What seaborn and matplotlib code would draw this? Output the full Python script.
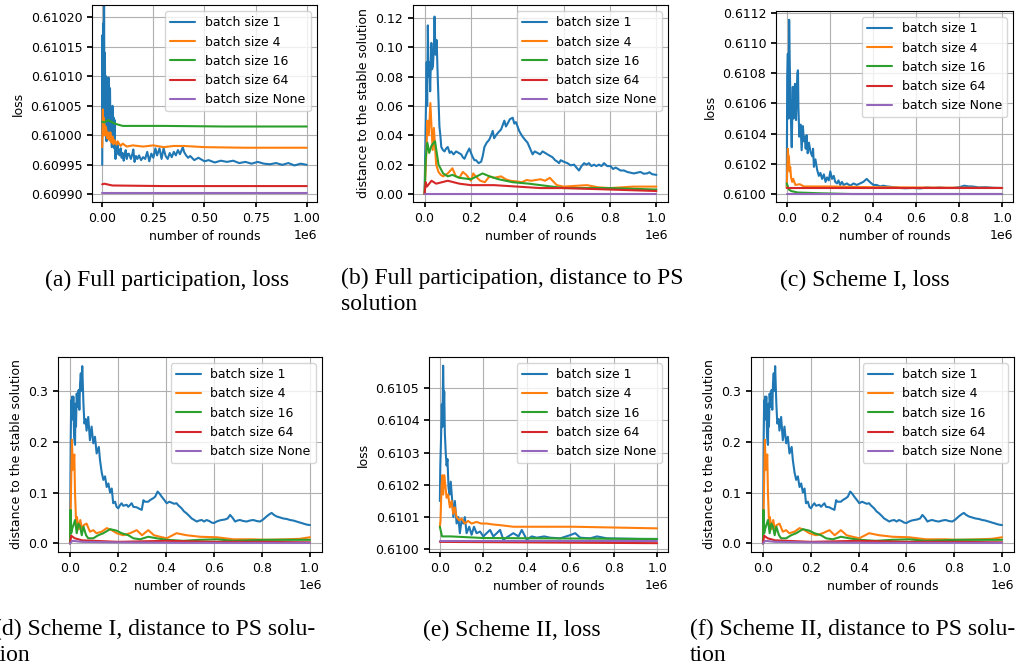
import numpy as np
import pandas as pd
import seaborn as sns
import matplotlib
matplotlib.use("Agg")
import matplotlib.pyplot as plt

labels = ["batch size 1", "batch size 4", "batch size 16", "batch size 64", "batch size None"]
colors = ["#1f77b4", "#ff7f0e", "#2ca02c", "#d62728", "#9467bd"]

# (a) full participation, loss
a_b1 = [(0.0, 0.60995), (0.001, 0.61017), (0.003, 0.61000), (0.005, 0.61019), (0.007, 0.61003),
        (0.009, 0.610223), (0.011, 0.61005), (0.013, 0.61014), (0.016, 0.61000), (0.019, 0.61010),
        (0.021, 0.60999), (0.024, 0.61006), (0.027, 0.61003), (0.031, 0.610098), (0.034, 0.61000),
        (0.036, 0.61006), (0.038, 0.61008), (0.041, 0.60999), (0.044, 0.61003), (0.047, 0.60998),
        (0.050, 0.61005), (0.053, 0.609985), (0.056, 0.61003), (0.059, 0.609978), (0.061, 0.610026),
        (0.063, 0.609975), (0.065, 0.60996), (0.068, 0.60998), (0.071, 0.609968), (0.075, 0.609984),
        (0.08, 0.60997), (0.085, 0.609966), (0.09, 0.609978), (0.095, 0.609962), (0.1, 0.60997),
        (0.105, 0.609957), (0.11, 0.609968), (0.115, 0.609975), (0.12, 0.60996), (0.125, 0.609968),
        (0.13, 0.609969), (0.14, 0.60996), (0.147, 0.609968), (0.152, 0.609976), (0.158, 0.609955),
        (0.165, 0.609965), (0.172, 0.60996), (0.18, 0.609966), (0.19, 0.609958), (0.2, 0.609963),
        (0.21, 0.60996), (0.22, 0.609972), (0.23, 0.609956), (0.24, 0.609969), (0.25, 0.609962),
        (0.26, 0.609978), (0.268, 0.609966), (0.28, 0.609978), (0.29, 0.60996), (0.30, 0.609978),
        (0.31, 0.609965), (0.32, 0.60996), (0.33, 0.60997), (0.34, 0.609963), (0.35, 0.609972),
        (0.36, 0.609966), (0.37, 0.609975), (0.38, 0.609968), (0.394, 0.60998), (0.40, 0.609972),
        (0.41, 0.609966), (0.42, 0.609962), (0.43, 0.609965), (0.45, 0.609958), (0.47, 0.609962),
        (0.50, 0.609956), (0.52, 0.609958), (0.55, 0.609954), (0.58, 0.609957), (0.61, 0.609955),
        (0.64, 0.609957), (0.67, 0.609953), (0.70, 0.609955), (0.73, 0.609952), (0.76, 0.609955),
        (0.79, 0.609952), (0.82, 0.609951), (0.85, 0.609953), (0.88, 0.60995), (0.91, 0.609953),
        (0.94, 0.609949), (0.97, 0.609952), (1.0, 0.60995)]
a_b4 = [(0.0, 0.60998), (0.003, 0.610044), (0.005, 0.61000), (0.007, 0.61003), (0.01, 0.610025),
        (0.013, 0.61000), (0.016, 0.610015), (0.02, 0.61001), (0.025, 0.609995), (0.03, 0.610005),
        (0.035, 0.609992), (0.04, 0.610005), (0.045, 0.609988), (0.05, 0.609998), (0.055, 0.609985),
        (0.06, 0.609992), (0.07, 0.609984), (0.075, 0.60999), (0.09, 0.609982), (0.1, 0.609986),
        (0.12, 0.609981), (0.15, 0.609983), (0.2, 0.609981), (0.25, 0.609983), (0.3, 0.60998),
        (0.35, 0.609982), (0.4, 0.609982), (0.5, 0.60998), (0.7, 0.609979), (1.0, 0.609979)]
a_b16 = [(0.0, 0.610023), (0.01, 0.610022), (0.03, 0.610026), (0.06, 0.61002), (0.1, 0.610016),
         (0.3, 0.610016), (0.6, 0.610015), (1.0, 0.610015)]
a_b64 = [(0.0, 0.609917), (0.01, 0.609918), (0.05, 0.609915), (0.3, 0.609914), (1.0, 0.609914)]
a_bn = [(0.0, 0.609902), (1.0, 0.609902)]

# (b) full participation, distance to PS solution
b_b1 = [(0.0, 0.0), (0.004, 0.041), (0.007, 0.07), (0.009, 0.09), (0.011, 0.06), (0.014, 0.115),
        (0.017, 0.08), (0.021, 0.09), (0.024, 0.07), (0.029, 0.103), (0.032, 0.085),
        (0.036, 0.087), (0.04, 0.1), (0.043, 0.121), (0.047, 0.095), (0.052, 0.105), (0.057, 0.078),
        (0.064, 0.046), (0.068, 0.04), (0.072, 0.032), (0.079, 0.03), (0.086, 0.029), (0.093, 0.031),
        (0.1, 0.032), (0.108, 0.028), (0.115, 0.029), (0.125, 0.027), (0.136, 0.029), (0.147, 0.028),
        (0.158, 0.027), (0.165, 0.025), (0.172, 0.024), (0.183, 0.028), (0.193, 0.031), (0.2, 0.028),
        (0.208, 0.025), (0.215, 0.023), (0.222, 0.023), (0.233, 0.021), (0.244, 0.022),
        (0.251, 0.026), (0.258, 0.032), (0.268, 0.035), (0.279, 0.037), (0.287, 0.04),
        (0.294, 0.043), (0.3, 0.038), (0.308, 0.040), (0.318, 0.042), (0.33, 0.044), (0.337, 0.047),
        (0.344, 0.050), (0.351, 0.046), (0.358, 0.048), (0.368, 0.051), (0.38, 0.052),
        (0.387, 0.048), (0.394, 0.049), (0.401, 0.046), (0.408, 0.043), (0.415, 0.041),
        (0.423, 0.039), (0.433, 0.037), (0.444, 0.035), (0.455, 0.031), (0.466, 0.027),
        (0.475, 0.029), (0.487, 0.028), (0.498, 0.027), (0.509, 0.029), (0.52, 0.028), (0.53, 0.027),
        (0.541, 0.026), (0.552, 0.025), (0.563, 0.023), (0.573, 0.022), (0.58, 0.021), (0.587, 0.023),
        (0.6, 0.022), (0.616, 0.021), (0.63, 0.0195), (0.645, 0.020), (0.655, 0.018), (0.666, 0.016),
        (0.677, 0.019), (0.688, 0.021), (0.698, 0.02), (0.709, 0.021), (0.72, 0.019), (0.731, 0.020),
        (0.741, 0.019), (0.752, 0.020), (0.763, 0.019), (0.774, 0.021), (0.788, 0.019),
        (0.802, 0.019), (0.813, 0.017), (0.824, 0.018), (0.835, 0.017), (0.845, 0.016),
        (0.86, 0.016), (0.874, 0.015), (0.888, 0.0145), (0.903, 0.014), (0.917, 0.0145),
        (0.931, 0.015), (0.945, 0.0138), (0.96, 0.014), (0.97, 0.0148), (0.981, 0.0135), (1.0, 0.013)]
b_b4 = [(0.0, 0.0), (0.008, 0.03), (0.012, 0.05), (0.018, 0.04), (0.025, 0.062), (0.03, 0.045),
        (0.035, 0.03), (0.04, 0.045), (0.05, 0.02), (0.06, 0.015), (0.07, 0.013), (0.08, 0.012),
        (0.1, 0.014), (0.12, 0.0175), (0.135, 0.012), (0.15, 0.011), (0.165, 0.015), (0.18, 0.013),
        (0.2, 0.009), (0.21, 0.014), (0.22, 0.012), (0.24, 0.009), (0.26, 0.008), (0.28, 0.012),
        (0.3, 0.011), (0.33, 0.012), (0.35, 0.01), (0.37, 0.009), (0.4, 0.0085), (0.42, 0.008),
        (0.44, 0.0095), (0.46, 0.009), (0.5, 0.010), (0.52, 0.009), (0.54, 0.011), (0.57, 0.006),
        (0.6, 0.005), (0.65, 0.0055), (0.7, 0.006), (0.75, 0.0045), (0.8, 0.004), (0.9, 0.005),
        (1.0, 0.005)]
b_b16 = [(0.0, 0.0), (0.005, 0.025), (0.012, 0.035), (0.02, 0.028), (0.03, 0.033), (0.045, 0.036),
         (0.06, 0.02), (0.08, 0.014), (0.1, 0.012), (0.12, 0.013), (0.15, 0.011), (0.2, 0.010),
         (0.25, 0.014), (0.28, 0.012), (0.32, 0.010), (0.38, 0.008), (0.45, 0.007), (0.5, 0.006),
         (0.55, 0.005), (0.6, 0.004), (0.8, 0.004), (1.0, 0.003)]
b_b64 = [(0.0, 0.0), (0.005, 0.008), (0.01, 0.005), (0.03, 0.009), (0.05, 0.007), (0.1, 0.009),
         (0.15, 0.007), (0.2, 0.006), (0.3, 0.006), (0.4, 0.005), (0.5, 0.004), (0.6, 0.004),
         (0.8, 0.003), (1.0, 0.002)]
b_bn = [(0.0, 0.0), (1.0, 0.0)]

# (c) scheme I, loss
c_b1 = [(0.0, 0.61004), (0.002, 0.61078), (0.005, 0.61093), (0.008, 0.6105), (0.011, 0.611155),
        (0.014, 0.61085), (0.018, 0.61056), (0.023, 0.61031), (0.028, 0.61071), (0.031, 0.6105),
        (0.034, 0.61051), (0.038, 0.61073), (0.043, 0.61049), (0.049, 0.6108), (0.052, 0.61082),
        (0.054, 0.61058), (0.058, 0.61038), (0.064, 0.61046), (0.069, 0.61029), (0.075, 0.61045),
        (0.079, 0.61035), (0.083, 0.61038), (0.088, 0.6103), (0.092, 0.61039), (0.097, 0.61027),
        (0.103, 0.61034), (0.11, 0.61028), (0.118, 0.61025), (0.122, 0.6103), (0.126, 0.61018),
        (0.133, 0.61023), (0.141, 0.61016), (0.149, 0.61012), (0.156, 0.61014), (0.164, 0.6101),
        (0.172, 0.61013), (0.18, 0.61008), (0.187, 0.61011), (0.195, 0.61009), (0.202, 0.61015),
        (0.21, 0.6101), (0.218, 0.61012), (0.225, 0.61008), (0.233, 0.61007), (0.24, 0.61009),
        (0.248, 0.61006), (0.256, 0.61008), (0.264, 0.61006), (0.279, 0.61007), (0.295, 0.610055),
        (0.31, 0.61007), (0.325, 0.61006), (0.34, 0.61007), (0.355, 0.61008), (0.371, 0.6101),
        (0.385, 0.61008), (0.402, 0.61006), (0.417, 0.61006), (0.433, 0.61005), (0.448, 0.610055),
        (0.465, 0.61005), (0.479, 0.610048), (0.5, 0.610045), (0.525, 0.61004), (0.55, 0.610038),
        (0.586, 0.61004), (0.62, 0.610037), (0.647, 0.610043), (0.68, 0.61004), (0.709, 0.610043),
        (0.74, 0.61004), (0.77, 0.61004), (0.8, 0.610045), (0.824, 0.610055), (0.845, 0.61005),
        (0.862, 0.61005), (0.89, 0.610044), (0.923, 0.610045), (0.96, 0.610041), (1.0, 0.61004)]
c_b4 = [(0.0, 0.61004), (0.003, 0.61022), (0.005, 0.6103), (0.008, 0.61022), (0.01, 0.61025),
        (0.013, 0.61015), (0.016, 0.61018), (0.02, 0.61011), (0.025, 0.61008), (0.03, 0.6101),
        (0.04, 0.61006), (0.06, 0.610065), (0.08, 0.61005), (0.2, 0.61005), (0.4, 0.610045),
        (1.0, 0.61004)]
c_b16 = [(0.0, 0.61007), (0.01, 0.61003), (0.02, 0.61002), (0.05, 0.61001), (0.15, 0.610005),
         (0.3, 0.61), (1.0, 0.61)]
c_b64 = [(0.0, 0.61004), (1.0, 0.61004)]
c_bn = [(0.0, 0.61), (1.0, 0.61)]

# (d) scheme I, distance to PS solution
d_b1 = [(0.0, 0.0), (0.003, 0.204), (0.005, 0.282), (0.007, 0.243), (0.009, 0.289), (0.012, 0.25),
        (0.014, 0.289), (0.017, 0.21), (0.021, 0.194), (0.023, 0.275), (0.025, 0.23),
        (0.028, 0.295), (0.031, 0.269), (0.033, 0.269), (0.036, 0.302), (0.039, 0.263),
        (0.042, 0.315), (0.045, 0.335), (0.048, 0.3), (0.051, 0.349), (0.056, 0.275),
        (0.06, 0.236), (0.065, 0.245), (0.069, 0.222), (0.076, 0.249), (0.083, 0.203),
        (0.09, 0.23), (0.097, 0.197), (0.104, 0.21), (0.111, 0.177), (0.12, 0.19), (0.125, 0.164),
        (0.132, 0.14), (0.139, 0.125), (0.146, 0.132), (0.153, 0.111), (0.16, 0.118),
        (0.167, 0.1), (0.174, 0.108), (0.18, 0.079), (0.188, 0.082), (0.194, 0.072),
        (0.201, 0.069), (0.208, 0.075), (0.215, 0.079), (0.222, 0.074), (0.236, 0.076),
        (0.243, 0.072), (0.257, 0.079), (0.264, 0.072), (0.278, 0.071), (0.285, 0.069),
        (0.299, 0.066), (0.306, 0.085), (0.312, 0.082), (0.326, 0.082), (0.333, 0.085),
        (0.347, 0.089), (0.355, 0.092), (0.365, 0.102), (0.373, 0.098), (0.382, 0.092),
        (0.392, 0.086), (0.403, 0.079), (0.414, 0.082), (0.424, 0.08), (0.434, 0.078),
        (0.444, 0.079), (0.451, 0.075), (0.465, 0.069), (0.475, 0.063), (0.486, 0.059),
        (0.497, 0.054), (0.507, 0.049), (0.518, 0.046), (0.528, 0.043), (0.538, 0.045),
        (0.549, 0.046), (0.559, 0.043), (0.569, 0.046), (0.58, 0.044), (0.59, 0.041),
        (0.6, 0.04), (0.611, 0.043), (0.622, 0.045), (0.632, 0.046), (0.645, 0.047),
        (0.657, 0.049), (0.667, 0.056), (0.678, 0.05), (0.688, 0.043), (0.698, 0.045),
        (0.708, 0.046), (0.722, 0.044), (0.736, 0.043), (0.75, 0.045), (0.764, 0.046),
        (0.778, 0.044), (0.792, 0.043), (0.805, 0.047), (0.819, 0.053), (0.83, 0.057),
        (0.84, 0.060), (0.85, 0.056), (0.861, 0.053), (0.875, 0.051), (0.889, 0.049),
        (0.903, 0.048), (0.917, 0.046), (0.93, 0.045), (0.944, 0.043), (0.958, 0.041),
        (0.972, 0.039), (0.986, 0.037), (1.0, 0.036)]
d_b4 = [(0.0, 0.0), (0.004, 0.098), (0.008, 0.204), (0.012, 0.145), (0.015, 0.164),
        (0.018, 0.175), (0.021, 0.098), (0.026, 0.033), (0.029, 0.052), (0.036, 0.028),
        (0.043, 0.046), (0.049, 0.03), (0.058, 0.036), (0.069, 0.039), (0.083, 0.023),
        (0.097, 0.026), (0.11, 0.02), (0.132, 0.023), (0.153, 0.03), (0.174, 0.026),
        (0.194, 0.02), (0.222, 0.016), (0.25, 0.02), (0.278, 0.026), (0.3, 0.016),
        (0.326, 0.026), (0.35, 0.016), (0.375, 0.013), (0.403, 0.01), (0.444, 0.02),
        (0.486, 0.016), (0.542, 0.013), (0.611, 0.012), (0.681, 0.008), (0.764, 0.008),
        (0.819, 0.007), (0.903, 0.008), (0.958, 0.009), (1.0, 0.012)]
d_b16 = [(0.0, 0.0), (0.002, 0.066), (0.005, 0.02), (0.01, 0.03), (0.021, 0.046), (0.028, 0.02),
         (0.035, 0.039), (0.042, 0.033), (0.049, 0.016), (0.056, 0.033), (0.067, 0.016),
         (0.076, 0.01), (0.097, 0.01), (0.118, 0.016), (0.139, 0.02), (0.167, 0.028),
         (0.194, 0.025), (0.215, 0.02), (0.243, 0.016), (0.264, 0.01), (0.292, 0.008),
         (0.326, 0.013), (0.361, 0.01), (0.403, 0.007), (0.472, 0.005), (0.542, 0.007),
         (0.611, 0.008), (0.681, 0.005), (0.819, 0.007), (0.958, 0.007), (1.0, 0.007)]
d_b64 = [(0.0, 0.0), (0.005, 0.015), (0.02, 0.01), (0.05, 0.006), (0.1, 0.005), (0.2, 0.003),
         (0.3, 0.004), (0.4, 0.005), (0.5, 0.004), (0.6, 0.003), (0.8, 0.003), (1.0, 0.002)]
d_bn = [(0.0, 0.0), (0.01, 0.005), (0.05, 0.003), (0.2, 0.002), (0.5, 0.001), (1.0, 0.001)]

# (e) scheme II, loss
e_b1 = [(0.0, 0.61015), (0.002, 0.61026), (0.005, 0.61033), (0.009, 0.61045), (0.012, 0.61038),
        (0.015, 0.61057), (0.018, 0.61044), (0.02, 0.61049), (0.023, 0.61036), (0.027, 0.6103),
        (0.031, 0.61026), (0.035, 0.61028), (0.04, 0.61019), (0.045, 0.61017), (0.05, 0.61021),
        (0.057, 0.61015), (0.062, 0.6101), (0.069, 0.61015), (0.077, 0.61008), (0.085, 0.6101),
        (0.092, 0.61005), (0.1, 0.61009), (0.108, 0.61008), (0.115, 0.6101), (0.123, 0.61005),
        (0.135, 0.61007), (0.146, 0.610045), (0.157, 0.61007), (0.169, 0.61005), (0.185, 0.610055),
        (0.2, 0.61004), (0.215, 0.61005), (0.231, 0.61006), (0.246, 0.61004), (0.262, 0.61005),
        (0.277, 0.61006), (0.292, 0.61003), (0.315, 0.61004), (0.338, 0.61005), (0.362, 0.61004),
        (0.377, 0.61006), (0.4, 0.61003), (0.423, 0.61004), (0.446, 0.610036), (0.48, 0.61004),
        (0.508, 0.610036), (0.554, 0.610034), (0.6, 0.610044), (0.623, 0.61005), (0.646, 0.610036),
        (0.692, 0.610034), (0.723, 0.61004), (0.769, 0.610034), (0.846, 0.610033), (0.923, 0.610032),
        (1.0, 0.610032)]
e_b4 = [(0.0, 0.61007), (0.003, 0.61009), (0.008, 0.6102), (0.012, 0.61023), (0.015, 0.61017),
        (0.02, 0.61023), (0.025, 0.6102), (0.031, 0.61016), (0.038, 0.61017), (0.046, 0.61013),
        (0.054, 0.61015), (0.062, 0.61011), (0.069, 0.61013), (0.077, 0.6101), (0.089, 0.61009),
        (0.1, 0.610095), (0.115, 0.61008), (0.13, 0.610088), (0.146, 0.61008), (0.169, 0.610085),
        (0.19, 0.61008), (0.215, 0.61008), (0.245, 0.610077), (0.277, 0.610075), (0.338, 0.61007),
        (0.385, 0.61007), (0.462, 0.61007), (0.615, 0.61007), (0.769, 0.610068), (0.923, 0.610066),
        (1.0, 0.610065)]
e_b16 = [(0.0, 0.61007), (0.01, 0.61004), (0.05, 0.61004), (0.2, 0.610035), (1.0, 0.610032)]
e_b64 = [(0.0, 0.610023), (0.5, 0.610021), (1.0, 0.610019)]
e_bn = [(0.0, 0.610026), (1.0, 0.610026)]

# (f) scheme II, distance to PS solution (same curves as (d))
f_b1, f_b4, f_b16, f_b64, f_bn = d_b1, d_b4, d_b16, d_b64, d_bn

a_yticks = [0.60990, 0.60995, 0.61000, 0.61005, 0.61010, 0.61015, 0.61020]
b_yticks = [0.0, 0.02, 0.04, 0.06, 0.08, 0.10, 0.12]
c_yticks = [0.6100, 0.6102, 0.6104, 0.6106, 0.6108, 0.6110, 0.6112]
d_yticks = [0.0, 0.1, 0.2, 0.3]
e_yticks = [0.6100, 0.6101, 0.6102, 0.6103, 0.6104, 0.6105]
x_ticks_a = [0.0, 0.25, 0.5, 0.75, 1.0]
x_ticks = [0.0, 0.2, 0.4, 0.6, 0.8, 1.0]

captions = ["(a) Full participation, loss",
            "(b) Full participation, distance to PS\nsolution",
            "(c) Scheme I, loss",
            "(d) Scheme I, distance to PS solu-\ntion",
            "(e) Scheme II, loss",
            "(f) Scheme II, distance to PS solu-\ntion"]

sns.set_theme(style="ticks", rc={
    "axes.grid": True, "grid.color": "#b0b0b0", "grid.linewidth": 0.8,
    "axes.edgecolor": "black", "axes.linewidth": 0.8,
    "xtick.labelsize": 9, "ytick.labelsize": 9, "axes.labelsize": 9,
    "legend.fontsize": 9, "font.size": 9,
    "xtick.major.size": 3.5, "ytick.major.size": 3.5,
    "xtick.color": "black", "ytick.color": "black", "text.color": "black",
    "axes.labelcolor": "black", "lines.linewidth": 1.5,
})
plt.rcParams["font.family"] = ["DejaVu Sans"]

W, H = 1018, 671
fig = plt.figure(figsize=(W / 100, H / 100), dpi=100)


def px_axes(x0, y0, x1, y1):
    return fig.add_axes([x0 / W, 1 - y1 / H, (x1 - x0) / W, (y1 - y0) / H])


panels = [
    (px_axes(92, 5, 317, 202), [a_b1, a_b4, a_b16, a_b64, a_bn], "loss",
     a_yticks, "%.5f", (0.609887, 0.610221), x_ticks_a),
    (px_axes(413, 5, 668, 202), [b_b1, b_b4, b_b16, b_b64, b_bn], "distance to the stable solution",
     b_yticks, "%.2f", (-0.0055, 0.1289), x_ticks),
    (px_axes(776, 11, 1013, 202), [c_b1, c_b4, c_b16, c_b64, c_bn], "loss",
     c_yticks, "%.4f", (0.609947, 0.611213), x_ticks),
    (px_axes(58, 357, 322, 552), [d_b1, d_b4, d_b16, d_b64, d_bn], "distance to the stable solution",
     d_yticks, "%.1f", (-0.017, 0.367), x_ticks),
    (px_axes(429, 357, 668, 552), [e_b1, e_b4, e_b16, e_b64, e_bn], "loss",
     e_yticks, "%.4f", (0.6099916, 0.610597), x_ticks),
    (px_axes(751, 357, 1014, 552), [f_b1, f_b4, f_b16, f_b64, f_bn], "distance to the stable solution",
     d_yticks, "%.1f", (-0.017, 0.367), x_ticks),
]

for ax, series, ylab, yt, fmt, ylim, xt in panels:
    for pts, lab, col in zip(series, labels, colors):
        df = pd.DataFrame(pts, columns=["rounds", "value"])
        df["rounds"] = df["rounds"] * 1e6
        sns.lineplot(data=df, x="rounds", y="value", ax=ax, color=col, label=lab,
                     estimator=None, sort=False, linewidth=1.5)
    ax.set_xlim(-0.05e6, 1.05e6)
    ax.set_xticks([t * 1e6 for t in xt])
    ax.set_ylim(*ylim)
    ax.set_yticks(yt)
    ax.set_yticklabels([fmt % v for v in yt])
    ax.set_xlabel("number of rounds")
    ax.set_ylabel(ylab)
    ax.xaxis.get_offset_text().set_fontsize(9)
    ax.legend(loc="upper right", fontsize=9)
    ax.grid(True, color="#b0b0b0", linewidth=0.8)

cap_font = dict(family=["Liberation Serif"], fontsize=17, color="black", linespacing=1.32)
fig.text(167 / W, 1 - 280 / H, captions[0], ha="center", va="center", **cap_font)
fig.text(341 / W, 1 - 268 / H, captions[1], ha="left", va="top", **cap_font)
fig.text(865 / W, 1 - 280 / H, captions[2], ha="center", va="center", **cap_font)
fig.text(-6 / W, 1 - 619 / H, captions[3], ha="left", va="top", **cap_font)
fig.text(512 / W, 1 - 630 / H, captions[4], ha="center", va="center", **cap_font)
fig.text(690 / W, 1 - 619 / H, captions[5], ha="left", va="top", **cap_font)

fig.savefig("out.png", dpi=100)
